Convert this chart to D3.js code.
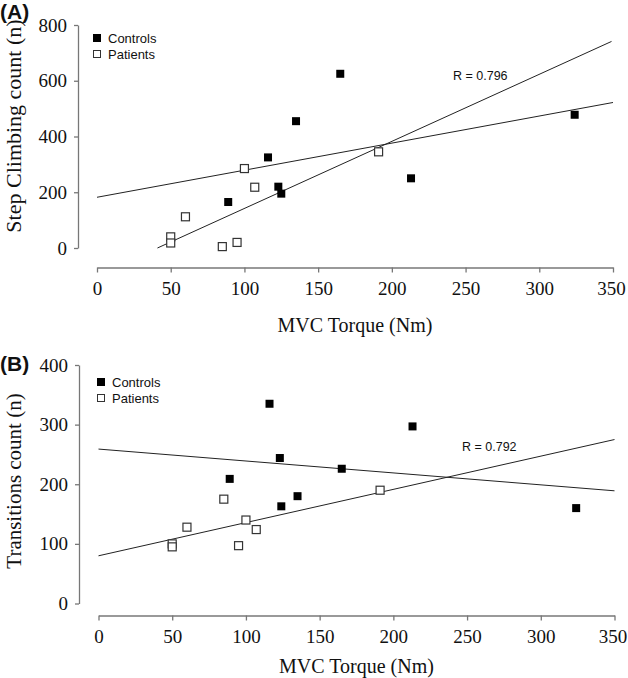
<!DOCTYPE html>
<html>
<head>
<meta charset="utf-8">
<script src="https://cdn.jsdelivr.net/npm/d3@7"></script>
<style>
  html, body { margin: 0; padding: 0; background: #fff; }
  svg { display: block; }
</style>
</head>
<body>
<svg id="chart" width="628" height="678"></svg>
<script>
// ---- Data ----
const xTicks = [0, 50, 100, 150, 200, 250, 300, 350];
const yTicksStep = [0, 200, 400, 600, 800];
const yTicksTransitions = [0, 100, 200, 300, 400];
const legendLabels = ["Controls", "Patients"];

const controlsTorque = [89, 116, 123, 125, 135, 165, 213, 324];
const controlsStep = [165, 325, 220, 195, 455, 625, 250, 478];
const controlsTorqueB = [89, 116, 123, 124, 135, 165, 213, 324];
const controlsTransitions = [209, 335, 244, 163, 180, 226, 297, 160];

const patientsTorque = [50, 50, 60, 85, 95, 100, 107, 191];
const patientsStep = [40, 18, 112, 5, 20, 285, 218, 345];
const patientsTransitions = [100, 95, 128, 175, 97, 140, 124, 190];

// regression lines as [x1, y1, x2, y2] in data units
const stepLines = [[0, 182, 350, 522], [41, 0, 349, 741]];
const transitionLines = [[0, 259, 350, 189], [0, 80, 350, 275]];

const panels = [
  {
    tag: "(A)", tagX: 0, tagY: 19,
    yTitle: "Step Climbing count (n)", yTitleSize: 22, yTitleCenter: 126,
    xTitle: "MVC Torque (Nm)", xTitleY: 332,
    xRange: [97, 613], yRange: [248, 25], yDomain: [0, 800], yTicks: yTicksStep,
    yAxisX: 78, xAxisY: 267.5,
    ctrlX: controlsTorque, ctrlY: controlsStep,
    patX: patientsTorque, patY: patientsStep,
    lines: stepLines,
    r: "R = 0.796", rX: 453, rY: 80,
    legendX: 93, legendY: 34
  },
  {
    tag: "(B)", tagX: 0, tagY: 371,
    yTitle: "Transitions count (n)", yTitleSize: 21, yTitleCenter: 481,
    xTitle: "MVC Torque (Nm)", xTitleY: 673,
    xRange: [98.5, 614.5], yRange: [603.5, 365], yDomain: [0, 400], yTicks: yTicksTransitions,
    yAxisX: 79, xAxisY: 615.5,
    ctrlX: controlsTorqueB, ctrlY: controlsTransitions,
    patX: patientsTorque, patY: patientsTransitions,
    lines: transitionLines,
    r: "R = 0.792", rX: 462, rY: 451,
    legendX: 97, legendY: 378
  }
];

const svg = d3.select("#chart");
const serif = "'Liberation Serif', 'Times New Roman', serif";
const sans = "'Liberation Sans', Arial, sans-serif";
const axisColor = "#777";
const M = 8; // marker size

panels.forEach(p => {
  const x = d3.scaleLinear().domain([0, 350]).range(p.xRange);
  const y = d3.scaleLinear().domain(p.yDomain).range(p.yRange);
  const g = svg.append("g");

  // Y axis
  const yAx = g.append("g")
    .attr("transform", `translate(${p.yAxisX},0)`)
    .call(d3.axisLeft(y).tickValues(p.yTicks).tickSize(4).tickPadding(7).tickSizeOuter(0));
  yAx.select(".domain").attr("stroke", axisColor).attr("stroke-width", 1.3);
  yAx.selectAll(".tick line").attr("stroke", axisColor).attr("stroke-width", 1.3);
  yAx.selectAll("text").attr("font-family", serif).attr("font-size", 19).attr("fill", "#111");

  // X axis
  const xAx = g.append("g")
    .attr("transform", `translate(0,${p.xAxisY})`)
    .call(d3.axisBottom(x).tickValues(xTicks).tickSize(5).tickPadding(9).tickSizeOuter(0));
  xAx.select(".domain").attr("stroke", axisColor).attr("stroke-width", 1.3);
  xAx.selectAll(".tick line").attr("stroke", axisColor).attr("stroke-width", 1.3);
  xAx.selectAll("text").attr("font-family", serif).attr("font-size", 19).attr("fill", "#111")
    .attr("dx", d => d === 350 ? -2 : 0);

  // Titles
  g.append("text")
    .attr("transform", `translate(21,${p.yTitleCenter}) rotate(-90)`)
    .attr("text-anchor", "middle")
    .attr("font-family", serif).attr("font-size", p.yTitleSize).attr("fill", "#111")
    .text(p.yTitle);
  g.append("text")
    .attr("x", (p.xRange[0] + p.xRange[1]) / 2)
    .attr("y", p.xTitleY)
    .attr("text-anchor", "middle")
    .attr("font-family", serif).attr("font-size", 20).attr("fill", "#111")
    .text(p.xTitle);
  g.append("text")
    .attr("x", p.tagX).attr("y", p.tagY)
    .attr("font-family", sans).attr("font-weight", "bold").attr("font-size", 21).attr("fill", "#111")
    .text(p.tag);

  // Regression lines
  g.selectAll("line.fit").data(p.lines).enter().append("line")
    .attr("class", "fit")
    .attr("x1", d => x(d[0])).attr("y1", d => y(d[1]))
    .attr("x2", d => x(d[2])).attr("y2", d => y(d[3]))
    .attr("stroke", "#222").attr("stroke-width", 1);

  // Patients (open squares)
  g.selectAll("rect.pat").data(p.patX.map((v, i) => [v, p.patY[i]])).enter().append("rect")
    .attr("class", "pat")
    .attr("x", d => x(d[0]) - M / 2).attr("y", d => y(d[1]) - M / 2)
    .attr("width", M).attr("height", M)
    .attr("fill", "#fff").attr("stroke", "#333").attr("stroke-width", 1.2);

  // Controls (filled squares)
  g.selectAll("rect.ctrl").data(p.ctrlX.map((v, i) => [v, p.ctrlY[i]])).enter().append("rect")
    .attr("class", "ctrl")
    .attr("x", d => x(d[0]) - M / 2).attr("y", d => y(d[1]) - M / 2)
    .attr("width", M).attr("height", M)
    .attr("fill", "#000");

  // R label
  g.append("text")
    .attr("x", p.rX).attr("y", p.rY)
    .attr("font-family", sans).attr("font-size", 12.5).attr("fill", "#111")
    .text(p.r);

  // Legend
  const lg = g.append("g").attr("transform", `translate(${p.legendX},${p.legendY})`);
  legendLabels.forEach((lab, i) => {
    lg.append("rect")
      .attr("x", i === 0 ? 0 : 0.5).attr("y", i * 16 + (i === 0 ? 0 : 0.5))
      .attr("width", i === 0 ? 8 : 7).attr("height", i === 0 ? 8 : 7)
      .attr("fill", i === 0 ? "#000" : "#fff")
      .attr("stroke", i === 0 ? "none" : "#333").attr("stroke-width", 1);
    lg.append("text")
      .attr("x", 15).attr("y", i * 16 + 8.5)
      .attr("font-family", sans).attr("font-size", 13).attr("fill", "#111")
      .text(lab);
  });
});
</script>
</body>
</html>
